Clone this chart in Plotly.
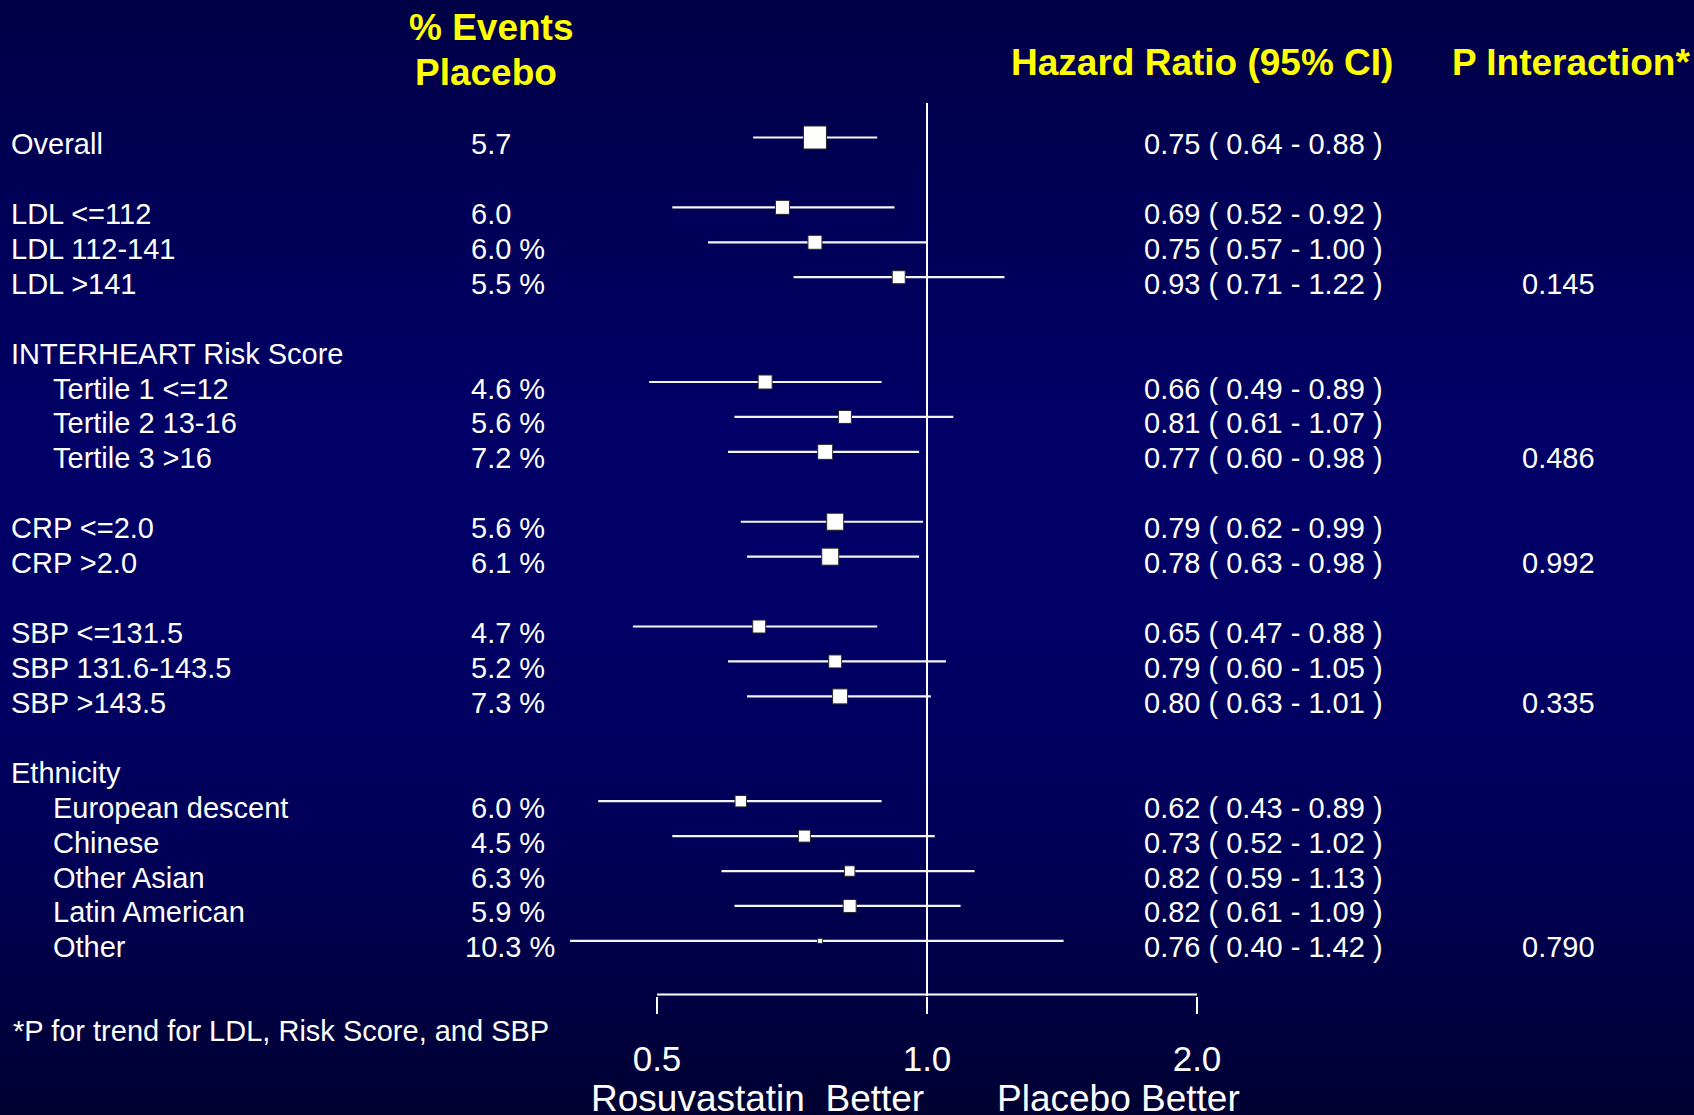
import plotly.graph_objects as go
import math

# ---------------- data ----------------
row_labels = ["Overall", "LDL <=112", "LDL 112-141", "LDL >141",
              "INTERHEART Risk Score", "Tertile 1 <=12", "Tertile 2 13-16", "Tertile 3 >16",
              "CRP <=2.0", "CRP >2.0",
              "SBP <=131.5", "SBP 131.6-143.5", "SBP >143.5",
              "Ethnicity", "European descent", "Chinese", "Other Asian", "Latin American", "Other"]
row_pos = [0, 2, 3, 4, 6, 7, 8, 9, 11, 12, 14, 15, 16, 18, 19, 20, 21, 22, 23]
row_indent = [False, False, False, False, False, True, True, True, False, False,
              False, False, False, False, True, True, True, True, True]
events_placebo = [5.7, 6.0, 6.0, 5.5, None, 4.6, 5.6, 7.2, 5.6, 6.1,
                  4.7, 5.2, 7.3, None, 6.0, 4.5, 6.3, 5.9, 10.3]
events_pct_sign = [False, False, True, True, False, True, True, True, True, True,
                   True, True, True, False, True, True, True, True, True]
hazard_ratio = [0.75, 0.69, 0.75, 0.93, None, 0.66, 0.81, 0.77, 0.79, 0.78,
                0.65, 0.79, 0.80, None, 0.62, 0.73, 0.82, 0.82, 0.76]
ci_lower = [0.64, 0.52, 0.57, 0.71, None, 0.49, 0.61, 0.60, 0.62, 0.63,
            0.47, 0.60, 0.63, None, 0.43, 0.52, 0.59, 0.61, 0.40]
ci_upper = [0.88, 0.92, 1.00, 1.22, None, 0.89, 1.07, 0.98, 0.99, 0.98,
            0.88, 1.05, 1.01, None, 0.89, 1.02, 1.13, 1.09, 1.42]
p_interaction = [None, None, None, "0.145", None, None, None, "0.486", None, "0.992",
                 None, None, "0.335", None, None, None, None, None, "0.790"]
tick_values = [0.5, 1.0, 2.0]
tick_labels = ["0.5", "1.0", "2.0"]

# ---------------- style ----------------
W, H = 1694, 1115
FONT = "Liberation Sans, Arial, sans-serif"
YELLOW = "#ffff00"
box_px = [23, 14, 14, 13, None, 14, 13, 15, 17, 17, 13, 13, 15, None, 11.5, 12, 10.5, 13, 5]

ROW0_PX, ROW_STEP = 137.5, 34.93
PLOT_BOTTOM_PX = 996
PAD = 2.5  # annotation inner padding compensation


def px_to_row(px):
    return (px - ROW0_PX) / ROW_STEP


def px_x(px):
    return px / W


def px_y(px):
    return 1 - px / H


fig = go.Figure()

# reference line at HR = 1
fig.add_trace(go.Scatter(x=[1, 1], y=[px_to_row(103), px_to_row(PLOT_BOTTOM_PX)],
                         mode="lines", line=dict(color="white", width=2),
                         hoverinfo="skip", showlegend=False))
# bracket
fig.add_trace(go.Scatter(x=[tick_values[0], tick_values[-1]],
                         y=[px_to_row(994.5), px_to_row(994.5)],
                         mode="lines", line=dict(color="white", width=2),
                         hoverinfo="skip", showlegend=False))

# CI lines
cx, cy = [], []
for r, lo, hi in zip(row_pos, ci_lower, ci_upper):
    if lo is None:
        continue
    cx += [lo, hi, None]
    cy += [r, r, None]
fig.add_trace(go.Scatter(x=cx, y=cy, mode="lines",
                         line=dict(color="#f4f4f4", width=2.2),
                         hoverinfo="skip", showlegend=False))

# boxes
bx, by, bs = [], [], []
for r, h, s in zip(row_pos, hazard_ratio, box_px):
    if h is None:
        continue
    bx.append(h); by.append(r); bs.append(s)
fig.add_trace(go.Scatter(x=bx, y=by, mode="markers",
                         marker=dict(symbol="square", size=bs, color="white", opacity=1,
                                     line=dict(color="#262626", width=1)),
                         hoverinfo="skip", showlegend=False))

ann = []


def text(x_px, y, t, size=29, color="white", xanchor="left", yref="y", yshift=0, bold=False):
    x = px_x(x_px - PAD) if xanchor == "left" else px_x(x_px)
    ann.append(dict(x=x, y=y, xref="paper", yref=yref, text=("<b>%s</b>" % t) if bold else t,
                    showarrow=False, xanchor=xanchor, yanchor="middle", yshift=yshift,
                    font=dict(family=FONT, size=size, color=color)))


TEXT_SHIFT = -6.5
for i, r in enumerate(row_pos):
    text(53 if row_indent[i] else 11, r, row_labels[i], yshift=TEXT_SHIFT)
    e = events_placebo[i]
    if e is not None:
        s = "%.1f" % e + (" %" if events_pct_sign[i] else "")
        text(465 if e >= 10 else 471, r, s, yshift=TEXT_SHIFT)
    if hazard_ratio[i] is not None:
        s = "%.2f ( %.2f - %.2f )" % (hazard_ratio[i], ci_lower[i], ci_upper[i])
        text(1144, r, s, yshift=TEXT_SHIFT)
    if p_interaction[i] is not None:
        text(1522, r, p_interaction[i], yshift=TEXT_SHIFT)

# headers
text(491, px_y(27), "% Events", size=37, color=YELLOW, xanchor="center", yref="paper", bold=True)
text(486, px_y(72), "Placebo", size=37, color=YELLOW, xanchor="center", yref="paper", bold=True)
text(1011, px_y(62), "Hazard Ratio (95% CI)", size=37, color=YELLOW, yref="paper", bold=True)
text(1452, px_y(62), "P Interaction*", size=37, color=YELLOW, yref="paper", bold=True)

# footnote and direction labels
text(13, px_y(1031), "*P for trend for LDL, Risk Score, and SBP", yref="paper")
text(591, px_y(1098.5), "Rosuvastatin\u00a0 Better", size=37, yref="paper")
text(997, px_y(1098.5), "Placebo Better", size=37, yref="paper")

# background gradient
stops = [(0, 70), (200, 86), (420, 102), (620, 102), (850, 88), (1115, 50)]


def blue_at(px):
    for (p0, c0), (p1, c1) in zip(stops[:-1], stops[1:]):
        if p0 <= px <= p1:
            return c0 + (c1 - c0) * (px - p0) / (p1 - p0)
    return stops[-1][1]


shapes = []
band = 10
for y0 in range(0, H, band):
    c = int(round(blue_at(y0 + band / 2)))
    shapes.append(dict(type="rect", xref="paper", yref="paper", x0=0, x1=1,
                       y0=px_y(min(y0 + band, H)) - 0.0005, y1=px_y(y0) + 0.0005,
                       fillcolor="rgb(0,0,%d)" % c, line=dict(width=0), layer="below"))

px_per_decade = 270 / math.log10(2)
x_range = [-927 / px_per_decade, (W - 927) / px_per_decade]

fig.update_layout(
    width=W, height=H, margin=dict(l=0, r=0, t=0, b=0),
    paper_bgcolor="rgb(0,0,80)", plot_bgcolor="rgba(0,0,0,0)",
    showlegend=False, annotations=ann, shapes=shapes,
    xaxis=dict(type="log", range=x_range, domain=[0, 1], showgrid=False, zeroline=False,
               showline=False, tickmode="array", tickvals=tick_values, ticktext=tick_labels,
               ticks="outside", ticklen=17, tickwidth=2, tickcolor="white",
               ticklabelstandoff=15,
               tickfont=dict(family=FONT, size=35, color="white"), fixedrange=True),
    yaxis=dict(range=[px_to_row(PLOT_BOTTOM_PX), px_to_row(0)],
               domain=[1 - PLOT_BOTTOM_PX / H, 1], visible=False, fixedrange=True),
)

fig.write_html("out.html", config={"displayModeBar": False})
